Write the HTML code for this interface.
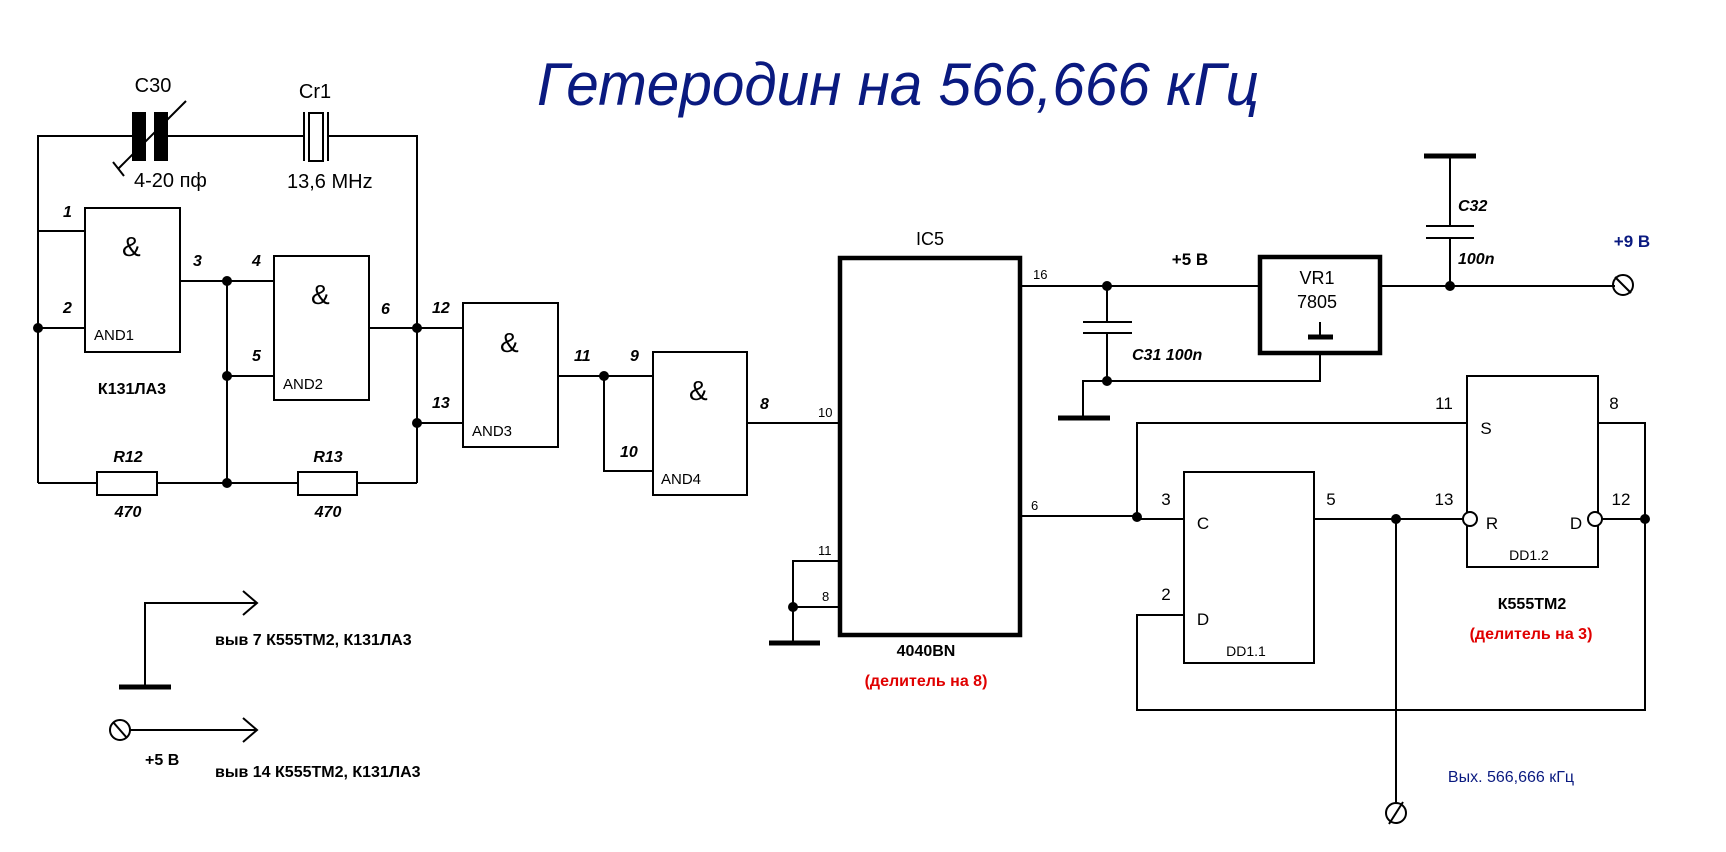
<!DOCTYPE html>
<html><head><meta charset="utf-8"><style>
html,body{margin:0;padding:0;background:#fff}
svg{display:block}
text{font-family:"Liberation Sans","DejaVu Sans",sans-serif;fill:#000}
.pn{font-style:italic;font-weight:bold;font-size:16px}
.sm{font-size:13px}
.gl{font-size:15px}
.amp{font-size:28px}
.b{font-weight:bold}
.red{fill:#e00000;font-weight:bold;font-size:16px}
.blue{fill:#0a1a80}
</style></head><body>
<svg width="1726" height="852" viewBox="0 0 1726 852" xmlns="http://www.w3.org/2000/svg">
<g stroke="#000" stroke-width="2" fill="none">
<!-- top loop -->
<polyline points="38,483 38,136 133,136"/>
<line x1="167" y1="136" x2="304" y2="136"/>
<polyline points="328,136 417,136 417,483"/>
<!-- crystal -->
<line x1="304" y1="112" x2="304" y2="161"/>
<line x1="328" y1="112" x2="328" y2="161"/>
<rect x="309" y="113" width="14" height="48"/>
<!-- C30 arrow -->
<line x1="118" y1="169" x2="186" y2="101"/>
<line x1="113" y1="162" x2="124" y2="176"/>
<!-- AND1 -->
<rect x="85" y="208" width="95" height="144"/>
<line x1="38" y1="231" x2="85" y2="231"/>
<line x1="38" y1="328" x2="85" y2="328"/>
<line x1="180" y1="281" x2="274" y2="281"/>
<line x1="227" y1="281" x2="227" y2="483"/>
<!-- AND2 -->
<rect x="274" y="256" width="95" height="144"/>
<line x1="227" y1="376" x2="274" y2="376"/>
<line x1="369" y1="328" x2="463" y2="328"/>
<!-- bottom resistor line -->
<line x1="38" y1="483" x2="97" y2="483"/>
<line x1="157" y1="483" x2="298" y2="483"/>
<line x1="357" y1="483" x2="417" y2="483"/>
<rect x="97" y="472" width="60" height="23"/>
<rect x="298" y="472" width="59" height="23"/>
<!-- AND3 -->
<rect x="463" y="303" width="95" height="144"/>
<line x1="417" y1="423" x2="463" y2="423"/>
<line x1="558" y1="376" x2="653" y2="376"/>
<polyline points="604,376 604,471 653,471"/>
<!-- AND4 -->
<rect x="653" y="352" width="94" height="143"/>
<line x1="747" y1="423" x2="838" y2="423"/>
<!-- IC5 -->
<rect x="840" y="258" width="180" height="377" stroke-width="4.5"/>
<polyline points="838,561 793,561 793,643"/>
<line x1="793" y1="607" x2="838" y2="607"/>
<line x1="769" y1="643" x2="820" y2="643" stroke-width="5"/>
<!-- 16 / 5V -->
<line x1="1022" y1="286" x2="1260" y2="286"/>
<line x1="1107" y1="286" x2="1107" y2="322"/>
<line x1="1083" y1="322" x2="1132" y2="322"/>
<line x1="1083" y1="333" x2="1132" y2="333"/>
<line x1="1107" y1="333" x2="1107" y2="381"/>
<polyline points="1107,381 1320,381 1320,353"/>
<polyline points="1107,381 1083,381 1083,418"/>
<line x1="1058" y1="418" x2="1110" y2="418" stroke-width="5"/>
<rect x="1260" y="257" width="120" height="96" stroke-width="4.5"/>
<line x1="1320" y1="322" x2="1320" y2="336"/>
<line x1="1308" y1="337" x2="1333" y2="337" stroke-width="5"/>
<line x1="1382" y1="286" x2="1615" y2="286"/>
<line x1="1450" y1="156" x2="1450" y2="226"/>
<line x1="1450" y1="238" x2="1450" y2="286"/>
<line x1="1424" y1="156" x2="1476" y2="156" stroke-width="5"/>
<line x1="1426" y1="226" x2="1474" y2="226"/>
<line x1="1426" y1="238" x2="1474" y2="238"/>
<circle cx="1623" cy="285" r="10"/>
<line x1="1615" y1="277" x2="1631" y2="293"/>
<!-- flip flops -->
<rect x="1467" y="376" width="131" height="191"/>
<rect x="1184" y="472" width="130" height="191"/>
<line x1="1022" y1="516" x2="1137" y2="516"/>
<polyline points="1467,423 1137,423 1137,519 1184,519"/>
<line x1="1314" y1="519" x2="1463" y2="519"/>
<circle cx="1470" cy="519" r="7" fill="#fff"/>
<circle cx="1595" cy="519" r="7" fill="#fff"/>
<line x1="1602" y1="519" x2="1645" y2="519"/>
<polyline points="1598,423 1645,423 1645,710 1137,710 1137,615 1184,615"/>
<line x1="1396" y1="519" x2="1396" y2="803"/>
<circle cx="1396" cy="813" r="10"/>
<line x1="1389" y1="824" x2="1403" y2="802"/>
<!-- legend -->
<polyline points="145,687 145,603 257,603"/>
<polyline points="243,591 257,603 243,615"/>
<line x1="119" y1="687" x2="171" y2="687" stroke-width="5"/>
<circle cx="120" cy="730" r="10"/>
<line x1="113" y1="722" x2="127" y2="738"/>
<line x1="130" y1="730" x2="257" y2="730"/>
<polyline points="243,718 257,730 243,742"/>
</g>
<!-- C30 plates -->
<rect x="132" y="112" width="14" height="49" fill="#000"/>
<rect x="154" y="112" width="14" height="49" fill="#000"/>
<!-- junction dots -->
<g fill="#000">
<circle cx="38" cy="328" r="5"/><circle cx="227" cy="281" r="5"/><circle cx="227" cy="376" r="5"/><circle cx="227" cy="483" r="5"/>
<circle cx="417" cy="328" r="5"/><circle cx="417" cy="423" r="5"/><circle cx="604" cy="376" r="5"/>
<circle cx="793" cy="607" r="5"/><circle cx="1107" cy="286" r="5"/><circle cx="1107" cy="381" r="5"/><circle cx="1450" cy="286" r="5"/>
<circle cx="1137" cy="517" r="5"/><circle cx="1396" cy="519" r="5"/><circle cx="1645" cy="519" r="5"/>
</g>
<!-- text -->
<text x="537" y="105" font-size="60" font-style="italic" class="blue" textLength="722" lengthAdjust="spacingAndGlyphs">Гетеродин на 566,666 кГц</text>
<text x="153" y="92" font-size="20" text-anchor="middle">С30</text>
<text x="134" y="187" font-size="20">4-20 пф</text>
<text x="315" y="98" font-size="20" text-anchor="middle">Cr1</text>
<text x="287" y="188" font-size="20">13,6 MHz</text>
<text class="pn" x="63" y="217">1</text><text class="pn" x="63" y="313">2</text>
<text class="pn" x="193" y="266">3</text><text class="pn" x="252" y="266">4</text><text class="pn" x="252" y="361">5</text>
<text class="pn" x="381" y="314">6</text><text class="pn" x="432" y="313">12</text><text class="pn" x="432" y="408">13</text>
<text class="pn" x="574" y="361">11</text><text class="pn" x="630" y="361">9</text><text class="pn" x="620" y="457">10</text>
<text class="pn" x="760" y="409">8</text>
<text class="amp" x="122" y="256">&amp;</text><text class="amp" x="311" y="304">&amp;</text>
<text class="amp" x="500" y="352">&amp;</text><text class="amp" x="689" y="400">&amp;</text>
<text class="gl" x="94" y="340">AND1</text><text class="gl" x="283" y="389">AND2</text>
<text class="gl" x="472" y="436">AND3</text><text class="gl" x="661" y="484">AND4</text>
<text class="b" x="132" y="394" font-size="16" text-anchor="middle">К131ЛА3</text>
<text class="pn" x="128" y="462" font-size="18" text-anchor="middle">R12</text>
<text class="pn" x="128" y="517" font-size="18" text-anchor="middle">470</text>
<text class="pn" x="328" y="462" font-size="18" text-anchor="middle">R13</text>
<text class="pn" x="328" y="517" font-size="18" text-anchor="middle">470</text>
<text class="sm" x="818" y="417">10</text><text class="sm" x="818" y="555">11</text><text class="sm" x="822" y="601">8</text>
<text x="930" y="245" font-size="18" text-anchor="middle">IC5</text>
<text class="b" x="926" y="656" font-size="16" text-anchor="middle">4040BN</text>
<text class="red" x="926" y="686" text-anchor="middle">(делитель на 8)</text>
<text class="sm" x="1033" y="279">16</text><text class="sm" x="1031" y="510">6</text>
<text class="b" x="1190" y="265" font-size="17" text-anchor="middle">+5 В</text>
<text x="1317" y="284" font-size="18" text-anchor="middle">VR1</text>
<text x="1317" y="308" font-size="18" text-anchor="middle">7805</text>
<text class="pn" x="1132" y="360" font-size="18">C31  100n</text>
<text class="pn" x="1458" y="211" font-size="18">C32</text>
<text class="pn" x="1458" y="264" font-size="18">100n</text>
<text class="b blue" x="1632" y="247" font-size="17" text-anchor="middle">+9 В</text>
<text x="1444" y="409" font-size="17" text-anchor="middle">11</text>
<text x="1614" y="409" font-size="17" text-anchor="middle">8</text>
<text x="1486" y="434" font-size="17" text-anchor="middle">S</text>
<text x="1166" y="505" font-size="17" text-anchor="middle">3</text>
<text x="1203" y="529" font-size="17" text-anchor="middle">C</text>
<text x="1331" y="505" font-size="17" text-anchor="middle">5</text>
<text x="1444" y="505" font-size="17" text-anchor="middle">13</text>
<text x="1492" y="529" font-size="17" text-anchor="middle">R</text>
<text x="1576" y="529" font-size="17" text-anchor="middle">D</text>
<text x="1621" y="505" font-size="17" text-anchor="middle">12</text>
<text x="1529" y="560" font-size="14" text-anchor="middle" fill="#333">DD1.2</text>
<text x="1166" y="600" font-size="17" text-anchor="middle">2</text>
<text x="1203" y="625" font-size="17" text-anchor="middle">D</text>
<text x="1246" y="656" font-size="14" text-anchor="middle" fill="#333">DD1.1</text>
<text class="b" x="1532" y="609" font-size="16" text-anchor="middle">К555ТМ2</text>
<text class="red" x="1531" y="639" text-anchor="middle">(делитель на 3)</text>
<text class="blue" x="1511" y="782" font-size="16" text-anchor="middle">Вых. 566,666 кГц</text>
<text class="b" x="215" y="645" font-size="16">выв 7  К555ТМ2, К131ЛА3</text>
<text class="b" x="145" y="765" font-size="16">+5 В</text>
<text class="b" x="215" y="777" font-size="16">выв 14  К555ТМ2, К131ЛА3</text>
</svg>
</body></html>
